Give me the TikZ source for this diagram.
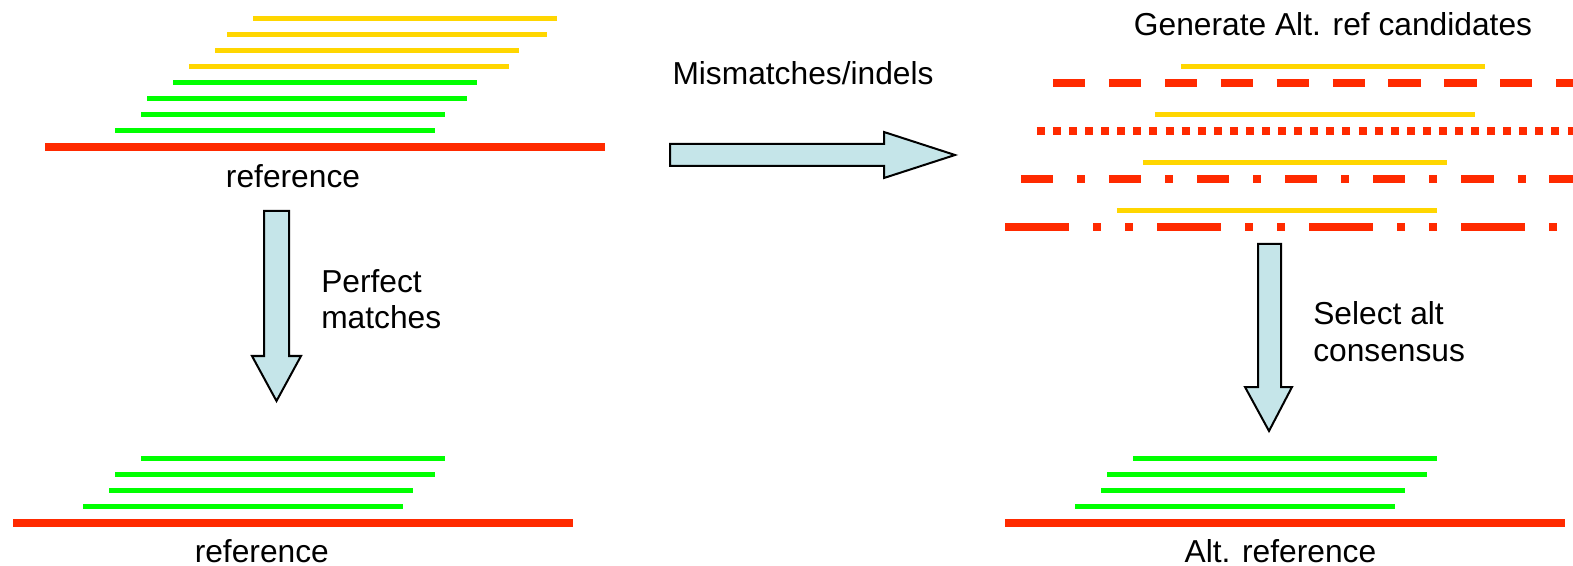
\documentclass[tikz,border=0pt]{standalone}
\usepackage{fontspec}
\setmainfont{Liberation Sans}
\definecolor{readY}{RGB}{255,214,0}
\definecolor{readG}{RGB}{0,255,0}
\definecolor{refR}{RGB}{255,42,0}
\definecolor{arrowfill}{RGB}{197,229,233}
\begin{document}
\begin{tikzpicture}[x=0.75pt,y=-0.75pt,
  yread/.style={draw=readY,line width=3.75pt},
  gread/.style={draw=readG,line width=3.75pt},
  refline/.style={draw=refR,line width=6pt},
  blockarrow/.style={draw=black,fill=arrowfill,line width=1.5pt,line join=miter},
  lbl/.style={inner sep=0pt,font=\fontsize{23.8}{27}\selectfont}]
\useasboundingbox (0,0) rectangle (1573,566);

% ---- top left
\draw[yread] (253,18.7) -- (556.7,18.7);
\draw[yread] (227,34.7) -- (546.8,34.7);
\draw[yread] (215.1,50.7) -- (519.2,50.7);
\draw[yread] (189,66.7) -- (508.9,66.7);
\draw[gread] (173.2,82.7) -- (476.9,82.7);
\draw[gread] (147.1,98.7) -- (467,98.7);
\draw[gread] (141.2,114.7) -- (444.8,114.7);
\draw[gread] (115.1,130.7) -- (434.9,130.7);
\draw[refline] (45.1,146.7) -- (605,146.7);
\node[lbl,anchor=base] (ref1) at (293,188) {reference};

% ---- bottom left
\draw[gread] (140.8,458.7) -- (445.1,458.7);
\draw[gread] (115.2,474.7) -- (435.1,474.7);
\draw[gread] (109.1,490.7) -- (412.9,490.7);
\draw[gread] (83,506.7) -- (403,506.7);
\draw[refline] (13,522.7) -- (572.9,522.7);
\node[lbl,anchor=base] (ref2) at (261.8,562) {reference};

% ---- left down arrow
\draw[blockarrow] (264,211) -- (289,211) -- (289,356) -- (301,356) -- (276.5,401) -- (252,356) -- (264,356) -- cycle;
\node[lbl,anchor=base west] (pm1) at (321,293) {Perfect};
\node[lbl,anchor=base west] (pm2) at (321,329) {matches};

% ---- horizontal arrow
\draw[blockarrow] (670,144) -- (884,144) -- (884,132) -- (955,155) -- (884,178) -- (884,166) -- (670,166) -- cycle;
\node[lbl,anchor=base] (mm) at (803,85) {Mismatches/indels};

% ---- top right
\node[lbl,anchor=base] (gen) at (1333,36) {Generate Alt. ref candidates};
\draw[yread] (1180.9,66.7) -- (1484.9,66.7);
\draw[refline,dash pattern=on 24.15pt off 17.78pt] (1053,82.7) -- (1573,82.7);
\draw[yread] (1154.9,114.7) -- (1474.7,114.7);
\draw[refline,dash pattern=on 6pt off 6.06pt] (1036.9,130.7) -- (1573,130.7);
\draw[yread] (1142.9,162.7) -- (1446.9,162.7);
\draw[refline,dash pattern=on 24.15pt off 18pt on 6pt off 17.93pt] (1020.8,178.7) -- (1573,178.7);
\draw[yread] (1116.9,210.7) -- (1437,210.7);
\draw[refline,dash pattern=on 47.93pt off 18pt on 6pt off 18pt on 6pt off 18.07pt] (1005.1,226.7) -- (1573,226.7);

% ---- right down arrow
\draw[blockarrow] (1258,244) -- (1281,244) -- (1281,387) -- (1292,387) -- (1269,431) -- (1245,387) -- (1258,387) -- cycle;
\node[lbl,anchor=base west] (sa1) at (1313,325) {Select alt};
\node[lbl,anchor=base west] (sa2) at (1313,361) {consensus};

% ---- bottom right
\draw[gread] (1133.1,458.7) -- (1436.5,458.7);
\draw[gread] (1107.1,474.7) -- (1426.9,474.7);
\draw[gread] (1101.2,490.7) -- (1404.6,490.7);
\draw[gread] (1075.1,506.7) -- (1394.5,506.7);
\draw[refline] (1004.9,522.7) -- (1564.8,522.7);
\node[lbl,anchor=base] (altref) at (1280.4,562) {Alt. reference};
\end{tikzpicture}
\end{document}
